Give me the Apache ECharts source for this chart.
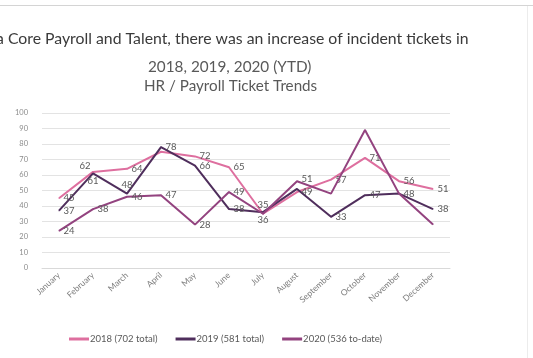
<!DOCTYPE html>
<html>
<head>
<meta charset="utf-8">
<script src="https://cdn.jsdelivr.net/npm/echarts@6/dist/echarts.min.js"></script>
<style>
html,body{margin:0;padding:0;background:#fff;}
#c{width:533px;height:358px;}
</style>
</head>
<body>
<div id="c"></div>
<script>
var months = ['January','February','March','April','May','June','July','August','September','October','November','December'];
var s2018 = [45, 62, 64, 75, 72, 65, 35, 49, 57, 71, 56, 51];
var s2019 = [37, 61, 48, 78, 66, 38, 36, 51, 33, 47, 48, 38];
var s2020 = [24, 38, 46, 47, 28, 49, 35, 56, 48, 89, 48, 28];
var seriesNames = ['2018 (702 total)', '2019 (581 total)', '2020 (536 to-date)'];
var yTicks = [0, 10, 20, 30, 40, 50, 60, 70, 80, 90, 100];

var colors = ['#DE6F9F', '#4F2E5C', '#93437F'];
// label visibility / placement (style, not data)
var labelCfg = [
  {hide: [3], pos: {1: 'left-top', 6: 'top'}},
  {hide: [], pos: {1: 'bottom', 2: 'top', 6: 'bottom', 7: 'top-right'}},
  {hide: [6,7,8,9,10,11], pos: {}}
];
function buildData(vals, cfg) {
  return vals.map(function (v, i) {
    var show = cfg.hide.indexOf(i) < 0;
    var p = cfg.pos[i] || 'right';
    var lab = {show: show, position: 'right', distance: 4};
    if (p === 'top') { lab.position = 'top'; lab.distance = 3; }
    if (p === 'bottom') { lab.position = 'bottom'; lab.distance = 2; }
    if (p === 'left-top') { lab.position = 'left'; lab.offset = [2, -6]; }
    if (p === 'top-right') { lab.position = 'right'; lab.offset = [0, -10]; }
    return {value: v, label: lab};
  });
}
var allVals = [s2018, s2019, s2020];
var series = allVals.map(function (vals, k) {
  return {
    name: seriesNames[k],
    type: 'line',
    data: buildData(vals, labelCfg[k]),
    symbol: 'circle',
    symbolSize: 1,
    showSymbol: true,
    lineStyle: {width: 2, color: colors[k]},
    itemStyle: {color: colors[k]},
    label: {show: true, fontSize: 9.5, color: '#595959', fontFamily: 'Lato', opacity: 1},
    emphasis: {disabled: true},
    z: k === 2 ? 3 : 2
  };
});

var chart = echarts.init(document.getElementById('c'), null, {renderer: 'canvas'});
chart.setOption({
  animation: false,
  backgroundColor: '#fff',
  color: colors,
  grid: {left: 42, right: 83, top: 113, bottom: 90},
  xAxis: {
    type: 'category',
    data: months,
    boundaryGap: true,
    axisLine: {show: true, lineStyle: {color: '#d9d9d9'}},
    axisTick: {show: false},
    axisLabel: {rotate: 42, fontSize: 8.5, color: '#7f7f7f', fontFamily: 'Lato', margin: 6, interval: 0}
  },
  yAxis: {
    type: 'value',
    min: yTicks[0],
    max: yTicks[yTicks.length - 1],
    interval: yTicks[1] - yTicks[0],
    axisLine: {show: false},
    axisTick: {show: false},
    splitLine: {lineStyle: {color: '#e3e3e3', width: 1}},
    axisLabel: {fontSize: 7.5, color: '#8c8c8c', fontFamily: 'Lato', margin: 14}
  },
  legend: {
    data: seriesNames,
    left: 64,
    top: 329,
    itemWidth: 20,
    itemHeight: 3,
    itemGap: 18,
    icon: 'rect',
    textStyle: {fontSize: 9.5, color: '#595959', fontFamily: 'Lato', padding: [0, 0, 0, -4]}
  },
  graphic: [
    {type: 'rect', shape: {x: 0, y: 5, width: 533, height: 1}, style: {fill: '#d4d4d4'}},
    {type: 'rect', shape: {x: 527, y: 6, width: 1, height: 352}, style: {fill: '#ececec'}},
    {type: 'text', left: -4, top: 31, style: {text: 'a Core Payroll and Talent, there was an increase of incident tickets in', font: '15.8px Lato', fill: '#3a3a3a'}},
    {type: 'text', left: 148, top: 60, style: {text: '2018, 2019, 2020 (YTD)', font: '15.3px Lato', fill: '#595959'}},
    {type: 'text', left: 144, top: 79, style: {text: 'HR / Payroll Ticket Trends', font: '15.2px Lato', fill: '#595959'}}
  ],
  series: series
});
</script>
</body>
</html>
